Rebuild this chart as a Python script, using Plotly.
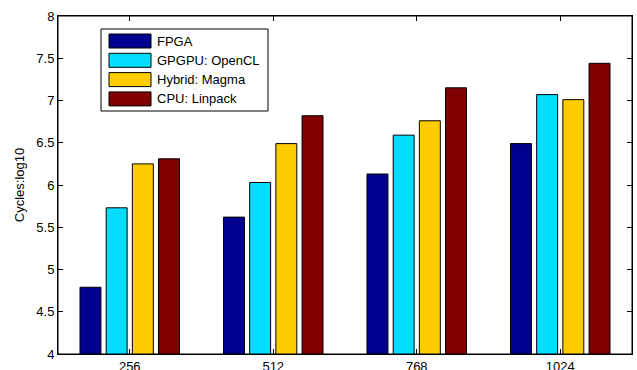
import plotly.graph_objects as go

categories = ["256", "512", "768", "1024"]
fpga = [4.79, 5.62, 6.13, 6.49]
gpgpu = [5.73, 6.03, 6.59, 7.07]
hybrid = [6.25, 6.49, 6.76, 7.01]
cpu = [6.31, 6.82, 7.15, 7.44]
series_names = ["FPGA", "GPGPU: OpenCL", "Hybrid: Magma", "CPU: Linpack"]
series_values = [fpga, gpgpu, hybrid, cpu]
series_colors = ["#00008F", "#00DDFF", "#FFCC00", "#800000"]

W, H = 637, 370
ML, MR, MT, MB = 58, 5, 16, 16
PW, PH = W - ML - MR, H - MT - MB

def px(x):
    return (x - ML) / PW

def py(y):
    return 1 - (y - MT) / PH

fig = go.Figure()
for name, vals, col in zip(series_names, series_values, series_colors):
    fig.add_trace(go.Bar(
        x=categories, y=vals, name=name,
        marker=dict(color=col, line=dict(color="#000000", width=1)),
        base=0, showlegend=False,
    ))

ff = "Liberation Sans, Arial, sans-serif"
font = dict(family=ff, size=13, color="#000000")

shapes = [
    dict(type="rect", xref="paper", yref="paper", x0=0, x1=1, y0=0, y1=1,
         line=dict(color="#000000", width=1), fillcolor="rgba(0,0,0,0)", layer="above"),
    dict(type="rect", xref="paper", yref="paper", x0=px(101), x1=px(268), y0=py(111), y1=py(29),
         line=dict(color="#000000", width=1), fillcolor="white", layer="above"),
]
annotations = []
for i, (name, col) in enumerate(zip(series_names, series_colors)):
    cy = 41 + i * 19.3
    shapes.append(dict(type="rect", xref="paper", yref="paper",
                       x0=px(109), x1=px(151), y0=py(cy + 7), y1=py(cy - 7),
                       line=dict(color="#000000", width=1), fillcolor=col, layer="above"))
    annotations.append(dict(xref="paper", yref="paper", x=px(155), y=py(cy),
                            xanchor="left", yanchor="middle", text=name, showarrow=False,
                            font=font))

fig.update_layout(
    width=W, height=H,
    margin=dict(l=ML, r=MR, t=MT, b=MB, autoexpand=False),
    paper_bgcolor="white", plot_bgcolor="white",
    font=font,
    barmode="group", bargap=0.27, bargroupgap=0.2,
    showlegend=False,
    shapes=shapes,
    annotations=annotations,
    xaxis=dict(
        type="category", range=[-0.5, 3.5],
        showline=True, linecolor="#000000", linewidth=1, mirror="ticks",
        ticks="inside", ticklen=5, tickcolor="#000000", tickwidth=1,
        showgrid=False, zeroline=False, automargin=False,
    ),
    yaxis=dict(
        range=[4, 8], dtick=0.5, tick0=4,
        showline=True, linecolor="#000000", linewidth=1, mirror="ticks",
        ticks="inside", ticklen=5, tickcolor="#000000", tickwidth=1,
        showgrid=False, zeroline=False, automargin=False,
        title=dict(text="Cycles:log10", standoff=8, font=dict(family=ff, size=13)),
    ),
)

fig.write_html("out.html", config={"displayModeBar": False},
               post_script="document.body.style.margin='0';document.body.style.padding='0';")
